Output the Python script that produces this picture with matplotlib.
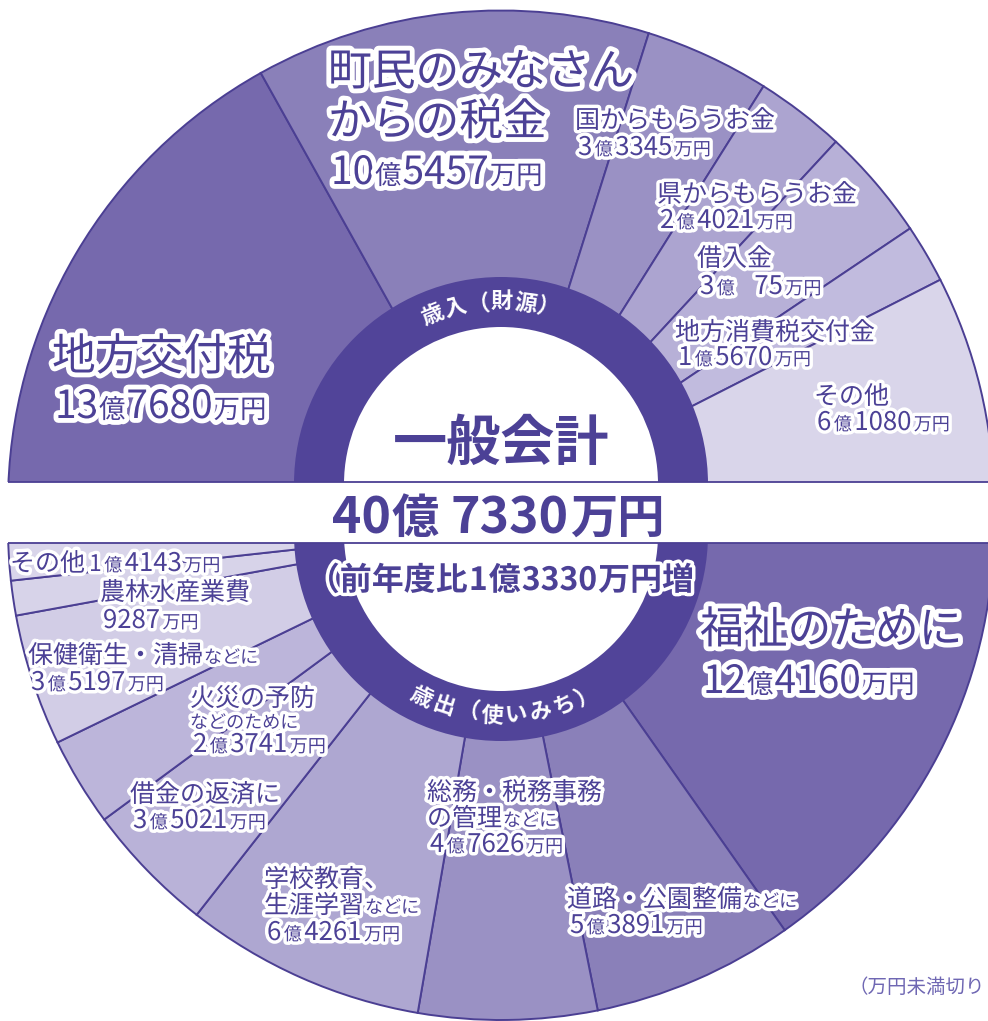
import numpy as np
import matplotlib
matplotlib.use("Agg")
import matplotlib.pyplot as plt
from matplotlib import patches, patheffects
from matplotlib.font_manager import FontProperties

W, H = 988, 1021
FONT = ["Noto Sans CJK JP", "DejaVu Sans"]
plt.rcParams["font.family"] = FONT

# 歳入（財源） 単位：万円
rev_names = ["地方交付税", "町民のみなさん\nからの税金", "国からもらうお金", "県からもらうお金",
             "借入金", "地方消費税交付金", "その他"]
rev_values = [137680, 105457, 33345, 24021, 30075, 15670, 61080]

# 歳出（使いみち） 単位：万円  ("|" 以降は小さい文字)
exp_names = ["福祉のために", "道路・公園整備|などに", "総務・税務事務\nの管理|などに",
             "学校教育、\n生涯学習|などに", "借金の返済に", "火災の予防\n|などのために",
             "保健衛生・清掃|などに", "農林水産業費", "その他"]
exp_values = [124160, 53891, 47626, 64261, 35021, 23741, 35197, 9287, 14143]

total_value = 407330
diff_value = 13330
title = "一般会計"
ring_top = "歳入（財源）"
ring_bottom = "歳出（使いみち）"
note = "（万円未満切り"

rev_colors = ["#7669ad", "#8a80b9", "#9a91c4", "#aca4d0", "#b7b0d7", "#c1bbde", "#d9d5ea"]
exp_colors = ["#7669ad", "#8a80b9", "#9a91c4", "#aea7d1", "#b9b2d8", "#bcb5da",
              "#d2cde6", "#d7d3e9", "#d9d5ea"]
EDGE = "#4b3f93"
RING = "#514499"
TXT = "#4c4196"

# label position: x, baselines (px from top), size class
rev_pos = [(52, [370, 418], "L"), (328, [85, 135, 184], "L"), (575, [128, 155], "M"),
           (657, [202, 228], "M"), (697, [266, 294], "M"), (675, [340, 365], "M"),
           (814, [404, 430], "M")]
exp_pos = [(700, [643, 693], "L"), (567, [907, 933], "M"), (427, [800, 826, 852], "M"),
           (264, [887, 913, 940], "M"), (130, [802, 828], "M"), (190, [706, 728, 752], "M"),
           (28, [663, 690], "M"), (100, [600, 628], "M"), (10, [571], "M")]
# text, digits, units, halo width, gap
SIZES = {"L": (31.5, 28, 19, 7, 1), "M": (18, 18.5, 13, 5, 2.5)}

CX, R = 501, 493
TOP_CY, TOP_CUT = 503.5, 482
BOT_CY, BOT_CUT = 527, 543

fig = plt.figure(figsize=(W / 100, H / 100), dpi=100)
ax = fig.add_axes([0, 0, 1, 1])
renderer = fig.canvas.get_renderer()


def text_w(s, size, weight="normal"):
    fp = FontProperties(family=FONT, size=size, weight=weight)
    w, _, _ = renderer.get_text_width_height_descent(s, fp, ismath=False)
    return w


def halo(lw):
    return [patheffects.withStroke(linewidth=lw, foreground="white")]


def draw_run(x, yb, parts, weight="normal", lw=5, color=TXT, gap=1):
    for s, size in parts:
        n = len(s) - len(s.lstrip(" "))
        if n:
            # blank digit slots (e.g. "3億  75万円")
            x += n * 0.6 * text_w("0", size, weight)
            s = s.lstrip(" ")
        ax.text(x, H - yb, s, fontsize=size, fontweight=weight, color=color,
                ha="left", va="baseline", path_effects=halo(lw) if lw else None, zorder=6)
        x += text_w(s, size, weight) + gap
    return x


def run_width(parts, weight="normal", gap=1):
    w = 0
    for s, size in parts:
        n = len(s) - len(s.lstrip(" "))
        w += n * 0.6 * text_w("0", size, weight) + text_w(s.lstrip(" "), size, weight) + gap
    return w - gap


def yen_parts(v, dig, unit):
    oku, man = divmod(v, 10000)
    if oku == 0:
        return [(str(man), dig), ("万円", unit)]
    m = str(man)
    return [(str(oku), dig), ("億", unit), (" " * (4 - len(m)) + m, dig), ("万円", unit)]


def half_pie(values, colors, cy, start):
    vals = list(values) + [sum(values)]
    wedges, _ = ax.pie(vals, colors=list(colors) + ["none"], startangle=start,
                       counterclock=False, center=(CX, H - cy), radius=R,
                       wedgeprops=dict(edgecolor=EDGE, linewidth=1.4))
    wedges[-1].set_visible(False)


def labels(names, values, pos):
    for name, v, (x, ys, cls) in zip(names, values, pos):
        big, dig, unit, lw, gap = SIZES[cls]
        lines = name.split("\n")
        for line, yb in zip(lines, ys):
            main, _, small = line.partition("|")
            parts = []
            if main:
                parts.append((main, big))
            if small:
                parts.append((small, unit if cls == "L" else 13))
            end = draw_run(x, yb, parts, lw=lw)
        num = yen_parts(v, dig, unit)
        if len(ys) > len(lines):
            draw_run(x + 3, ys[len(lines)], num, lw=lw, gap=gap)
        else:
            draw_run(end + 3, ys[-1], [(num[0][0], dig - 2)] + num[1:], lw=lw, gap=gap)


half_pie(rev_values, rev_colors, TOP_CY, 180)
half_pie(exp_values, exp_colors, BOT_CY, 0)

# inner rings
for cy in [484, 534]:
    for r, c, z in [(207, RING, 2), (157, "white", 2.1)]:
        ax.add_patch(patches.Circle((CX, H - cy), r, facecolor=c, edgecolor="none", zorder=z))

# white band between the two halves
ax.add_patch(patches.Rectangle((-10, H - BOT_CUT), W + 20, BOT_CUT - TOP_CUT,
                               facecolor="white", edgecolor="none", zorder=2.5))

# band edges
for cy, cut in [(TOP_CY, TOP_CUT), (BOT_CY, BOT_CUT)]:
    half = np.sqrt(R ** 2 - (cy - cut) ** 2)
    ax.plot([CX - half, CX + half], [H - cut, H - cut], color=EDGE, lw=1.3,
            solid_capstyle="butt", zorder=3)


# curved ring labels
def arc_text(s, cy, a0, a1, bottom):
    for ch, a in zip(s, np.linspace(a0, a1, len(s))):
        t = np.radians(a)
        ax.text(CX + 182 * np.cos(t), H - cy + 182 * np.sin(t), ch,
                rotation=a + 90 if bottom else a - 90, rotation_mode="anchor",
                ha="center", va="center", fontsize=16, fontweight="bold",
                color="white", zorder=4)


arc_text(ring_top, 484, 112, 75, False)
arc_text(ring_bottom, 534, -116, -62, True)

labels(rev_names, rev_values, rev_pos)
labels(exp_names, exp_values, exp_pos)

# centre texts
parts = [(title, 39)]
draw_run(CX - run_width(parts, "bold") / 2, 460, parts, weight="bold", lw=0)
oku, man = divmod(total_value, 10000)
parts = [(str(oku), 36), ("億 ", 34), (str(man), 36), ("万円", 34)]
draw_run(CX - 3 - run_width(parts, "bold") / 2, 533, parts, weight="bold", lw=0)
oku, man = divmod(diff_value, 10000)
parts = [("（前年度比", 23), (str(oku), 23), ("億", 23), (str(man), 23), ("万円増", 23)]
draw_run(CX - run_width(parts, "bold") / 2, 590, parts, weight="bold", lw=5)

ax.text(848, H - 993, note, fontsize=14, color="#6f67b3", ha="left", va="baseline", zorder=6)

ax.set_xlim(0, W)
ax.set_ylim(0, H)
ax.set_aspect("equal")
ax.set_axis_off()
fig.savefig("out.png", dpi=100, facecolor="white")
